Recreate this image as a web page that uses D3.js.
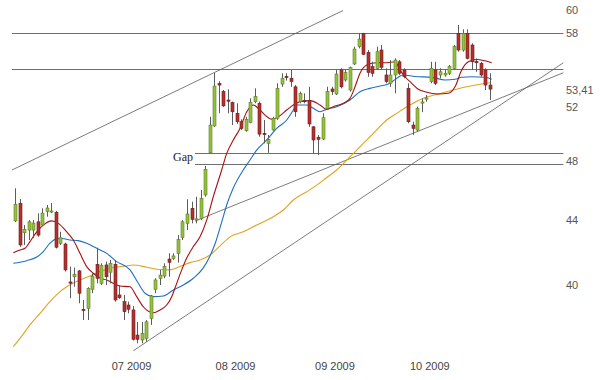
<!DOCTYPE html>
<html><head><meta charset="utf-8">
<script src="https://cdn.jsdelivr.net/npm/d3@7"></script>
<style>body{margin:0;background:#fff}svg{display:block}</style>
</head><body><svg id="c" width="605" height="380"></svg>
<script>
// ---- data ----
const openP  = [44.00,45.15,43.24,43.41,43.41,43.94,43.73,44.60,44.61,44.56,42.57,42.53,40.22,40.53,40.88,38.63,38.69,39.79,41.28,40.14,41.24,40.80,41.28,39.46,39.07,38.88,38.60,37.20,36.93,37.02,38.12,39.79,40.44,40.57,41.60,41.64,41.95,42.94,43.84,44.82,44.08,44.16,45.71,48.63,50.59,53.85,53.21,52.56,52.36,51.54,50.91,50.24,50.84,52.43,52.31,50.04,49.31,50.29,51.17,53.81,54.41,54.27,53.59,52.43,52.52,52.50,50.53,49.76,49.63,51.92,53.42,53.03,54.93,54.13,53.34,55.42,56.85,57.97,56.38,55.20,55.07,56.57,54.53,53.87,54.53,55.60,54.93,53.47,50.66,50.29,52.36,52.64,54.00,54.93,54.53,54.53,54.67,55.07,57.97,56.57,57.97,56.99,55.62,55.47,54.93,53.73];
const highP  = [46.16,45.44,43.73,44.05,44.05,44.49,44.82,45.04,45.17,44.65,43.30,42.61,41.14,41.08,40.94,39.17,39.91,40.74,42.30,41.34,41.44,41.54,41.54,40.04,39.46,39.07,38.82,37.93,37.93,38.03,39.46,40.44,40.94,41.34,41.95,41.95,43.09,44.05,45.42,45.26,45.59,46.04,47.70,51.28,54.69,54.04,53.34,53.39,52.44,52.31,51.09,51.28,52.69,53.47,52.44,51.04,49.92,51.28,53.87,54.67,54.67,54.93,53.73,53.21,53.08,53.59,50.58,49.92,51.54,53.59,53.59,54.93,55.07,54.93,55.20,56.85,57.97,58.02,56.57,55.60,56.85,56.99,55.07,55.74,55.88,55.74,55.07,53.87,50.91,52.05,52.69,52.95,55.60,55.60,55.07,54.93,55.34,56.99,58.69,58.32,58.32,57.13,55.88,55.60,55.07,54.67];
const lowP   = [43.92,42.35,42.47,42.78,42.90,42.98,43.67,44.27,44.51,42.25,42.47,40.84,39.27,39.94,38.98,38.03,38.03,39.56,40.14,40.04,40.04,40.14,39.07,39.23,38.03,38.41,36.90,36.75,36.75,36.84,37.76,39.56,40.04,40.44,40.53,41.54,41.38,42.78,43.41,43.84,43.84,44.05,45.59,48.59,50.53,51.55,52.03,51.54,50.66,50.74,50.29,50.16,50.79,52.31,49.80,49.31,48.63,50.24,51.04,53.59,54.08,53.59,51.28,52.31,52.31,50.53,48.59,48.47,49.56,51.79,52.95,52.95,53.47,54.00,53.21,55.34,56.71,56.15,54.39,54.39,54.98,54.93,53.87,53.59,53.08,54.53,54.27,50.79,49.92,50.16,51.63,52.43,53.87,53.73,54.27,54.39,54.53,54.98,56.43,56.43,55.80,54.93,54.78,54.39,53.34,52.56];
const closeP = [45.09,42.47,43.45,43.94,43.86,43.09,44.51,44.84,44.65,42.33,42.92,40.94,40.16,40.68,39.56,38.57,39.85,40.57,40.44,41.20,40.53,41.34,39.17,39.30,38.50,38.64,36.97,36.97,37.29,37.93,39.40,40.34,40.63,41.14,41.40,41.79,42.82,43.94,44.45,44.10,44.13,45.48,47.47,50.66,53.65,53.73,52.11,52.48,51.66,50.91,50.41,51.09,52.39,52.82,49.99,50.00,49.61,51.17,53.47,54.27,54.37,54.00,51.66,53.08,52.48,50.74,49.56,49.61,51.21,53.21,53.21,54.61,53.59,54.72,55.12,56.65,57.49,56.21,54.74,54.67,56.43,55.15,54.00,54.53,55.74,54.67,54.39,50.91,50.41,51.92,52.41,52.72,55.07,53.87,54.79,54.67,55.20,56.85,56.57,57.97,55.88,55.60,55.53,54.53,53.73,53.41];

// moving averages: [candle index, value]
const maShort = [[-0.44,41.99],[1.04,42.16],[2.15,42.26],[3.25,42.68],[4.74,43.30],[6.2,43.73],[8.06,44.0],[9.52,43.84],[11.38,43.30],[12.84,42.78],[14.32,41.95],[15.8,41.14],[17.26,40.74],[18.75,40.45],[20.23,40.34],[21.69,40.14],[23.17,39.98],[25.39,39.94],[26.87,39.36],[28.33,38.78],[30.54,38.44],[32.03,38.60],[33.51,38.88],[34.62,39.36],[35.72,40.14],[36.83,40.94],[37.94,41.66],[39.4,42.37],[40.88,42.98],[42.36,44.05],[43.82,45.59],[45.68,47.42],[46.79,48.59],[48.25,49.56],[49.73,50.41],[51.22,51.66],[52.68,52.18],[53.79,51.92],[55.27,51.41],[56.75,51.09],[58.21,51.28],[60.07,51.79],[61.53,52.18],[63.01,52.43],[65.23,52.51],[67.44,52.18],[68.92,51.85],[70.39,52.05],[72.6,52.31],[74.08,52.69],[75.19,53.59],[76.29,54.67],[77.78,55.34],[79.99,55.52],[82.2,55.52],[84.04,55.6],[85.15,54.93],[86.25,54.39],[87.74,53.87],[89.1,53.42],[90.68,53.21],[93.63,53.03],[95.84,53.08],[97.33,53.59],[98.8,54.93],[100.27,55.6],[102.12,55.79],[103.96,55.68],[105.44,55.52]];
const maMid = [[-0.44,41.34],[2.52,41.50],[4.74,41.72],[6.2,42.06],[7.68,42.58],[8.79,42.82],[10.27,42.88],[12.11,42.78],[13.94,42.74],[15.8,42.58],[18.02,42.26],[20.23,41.95],[22.44,41.44],[25.39,40.94],[27.22,40.14],[28.71,39.56],[30.54,39.36],[32.76,39.40],[34.97,39.75],[37.18,40.04],[39.4,40.44],[41.61,41.06],[43.09,41.79],[44.2,42.53],[45.68,43.92],[46.86,45.11],[48.25,46.18],[50.46,47.42],[51.95,48.12],[53.43,48.83],[55.64,49.56],[57.86,50.41],[60.07,51.04],[61.53,51.79],[62.28,52.18],[64.5,52.18],[65.96,51.92],[67.44,51.66],[68.92,51.85],[71.14,52.05],[74.08,52.56],[76.29,53.21],[78.5,53.47],[80.72,53.65],[82.93,53.87],[84.42,54.27],[85.88,54.53],[88.47,54.41],[92.17,54.35],[95.11,54.13],[97.33,54.19],[98.8,54.35],[101.02,54.39],[103.96,54.35],[105.44,54.19]];
const maLong = [[-0.44,36.57],[1.04,37.02],[3.25,37.76],[5.47,38.41],[7.68,39.07],[9.89,39.65],[11.38,39.94],[14.32,40.34],[16.53,40.57],[18.75,40.84],[21.69,41.08],[24.66,41.18],[26.12,41.24],[29.08,41.10],[31.3,40.98],[34.24,40.94],[36.45,41.14],[38.67,41.38],[40.88,41.54],[43.09,41.85],[45.3,42.41],[47.52,42.98],[50.46,43.30],[53.43,43.73],[57.1,44.27],[59.32,44.71],[61.53,45.37],[64.5,45.93],[66.71,46.38],[68.92,46.9],[71.14,47.42],[74.08,48.35],[77.03,49.31],[79.24,50.04],[82.2,51.04],[84.42,51.54],[87.36,52.18],[90.31,52.69],[93.63,53.03],[96.95,53.34],[99.91,53.59],[102.85,53.79],[105.07,53.91]];

const levelLines = [58, 55];            // full-width horizontal lines
const gapLines = [48.6, 47.82];         // gap zone
const gapLabel = "Gap";
// trend lines: [index1, value1, index2, value2]
const trendLines = [[-0.73,47.42,72.53,59.95],[26.12,36.35,121.3,55.52],[39.77,43.99,121.3,54.71]];
const yTicks = [60, 58, 52, 48, 44, 40];
const lastPrice = 53.41;
const lastLabel = "53,41";
const monthLabels = ["07 2009", "08 2009", "09 2009", "10 2009"];
const monthStart = [26, 49, 71, 92];

// ---- drawing ----
const svg = d3.select("#c");
const x = d3.scaleLinear().domain([0, 105]).range([15.3, 489.7]);
const y = d3.scaleLog().domain([40, 60]).range([285.7, 10.0]);
const lineStart = -0.73, lineEnd = 121.3;

const g = svg.append("g");

// horizontal level lines
g.selectAll("line.lvl").data(levelLines).join("line")
  .attr("x1", x(lineStart)).attr("x2", x(lineEnd))
  .attr("y1", d => Math.round(y(d)) + 0.5).attr("y2", d => Math.round(y(d)) + 0.5)
  .attr("stroke", "#6e6e6e").attr("stroke-width", 1);
g.selectAll("line.gap").data(gapLines).join("line")
  .attr("x1", x(trendLines[2][0])).attr("x2", x(lineEnd))
  .attr("y1", d => Math.round(y(d)) + 0.5).attr("y2", d => Math.round(y(d)) + 0.5)
  .attr("stroke", "#6e6e6e").attr("stroke-width", 1);
g.append("text")
  .attr("x", x(trendLines[2][0]) - 2)
  .attr("y", (y(gapLines[0]) + y(gapLines[1])) / 2 - 0.5)
  .attr("text-anchor", "end").attr("dominant-baseline", "middle")
  .attr("font-family", "Liberation Serif, Times New Roman, serif")
  .attr("font-size", 12).attr("fill", "#222").text(gapLabel);

// trend lines
g.selectAll("line.tr").data(trendLines).join("line")
  .attr("x1", d => x(d[0])).attr("y1", d => y(d[1]))
  .attr("x2", d => x(d[2])).attr("y2", d => y(d[3]))
  .attr("stroke", "#5a5a5a").attr("stroke-width", 0.8);

// moving averages
const ln = d3.line().x(d => x(d[0])).y(d => y(d[1])).curve(d3.curveMonotoneX);
[[maLong, "#e3a21e"], [maMid, "#1f6fc2"], [maShort, "#a80f0f"]].forEach(([data, col]) => {
  g.append("path").attr("d", ln(data)).attr("fill", "none")
    .attr("stroke", col).attr("stroke-width", 1.1);
});

// candles
const idx = d3.range(openP.length);
const cg = g.append("g");
idx.forEach(i => {
  const cx = Math.round(x(i));
  const o = openP[i], c = closeP[i];
  const up = c >= o;
  cg.append("line")
    .attr("x1", cx + 0.5).attr("x2", cx + 0.5)
    .attr("y1", y(highP[i])).attr("y2", y(lowP[i]))
    .attr("stroke", "#5c5c5c").attr("stroke-width", 1);
  const top = y(Math.max(o, c)), bot = y(Math.min(o, c));
  const h = Math.max(1.2, bot - top);
  cg.append("rect")
    .attr("x", cx - 1).attr("width", 3)
    .attr("y", top).attr("height", h)
    .attr("fill", up ? "#93c23c" : "#b3302c")
    .attr("stroke", up ? "#5f7d25" : "#6e1d1b").attr("stroke-width", 0.6);
});

// y axis labels
const yAxis = d3.axisRight(y).tickValues(yTicks).tickSize(0).tickPadding(0)
  .tickFormat(d3.format("d"));
const ya = svg.append("g").attr("transform", "translate(566,-0.5)").call(yAxis);
ya.select(".domain").remove();
ya.selectAll("text").attr("font-family", "Liberation Sans, Arial, sans-serif")
  .attr("font-size", 11).attr("fill", "#555");
svg.append("text").attr("x", 566).attr("y", y(lastPrice) + 2)
  .attr("dominant-baseline", "middle")
  .attr("font-family", "Liberation Sans, Arial, sans-serif")
  .attr("font-size", 11).attr("fill", "#555").text(lastLabel);

// x axis labels
const xAxis = d3.axisBottom(x).tickValues(monthStart).tickSize(0).tickPadding(0)
  .tickFormat((d, i) => monthLabels[i]);
const xa = svg.append("g").attr("transform", "translate(-1.7,362)").call(xAxis);
xa.select(".domain").remove();
xa.selectAll("text").attr("font-family", "Liberation Sans, Arial, sans-serif")
  .attr("font-size", 11).attr("fill", "#444");
</script>
</body></html>
